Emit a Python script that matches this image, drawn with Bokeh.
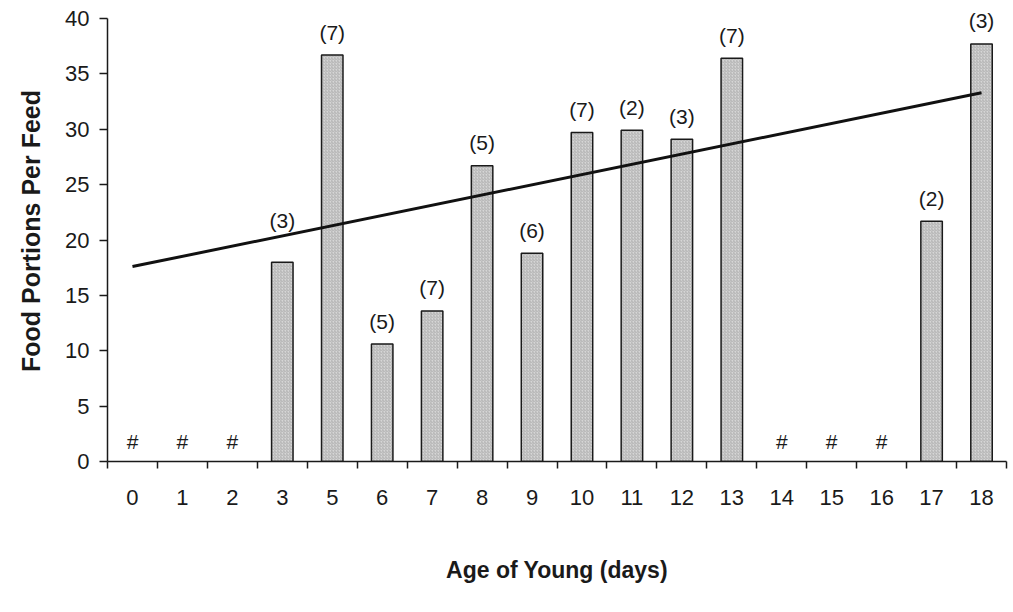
from bokeh.plotting import figure
from bokeh.models import ColumnDataSource, FixedTicker, Range1d, LabelSet
from bokeh.core.properties import value
from bokeh.embed import file_html
from bokeh.resources import INLINE

# ---- data ----
ages = ["0", "1", "2", "3", "5", "6", "7", "8", "9", "10", "11", "12", "13", "14", "15", "16", "17", "18"]
portions = [None, None, None, 18.0, 36.7, 10.6, 13.6, 26.7, 18.8, 29.7, 29.9, 29.1, 36.4, None, None, None, 21.7, 37.7]
sample_sizes = [None, None, None, 3, 7, 5, 7, 5, 6, 7, 2, 3, 7, None, None, None, 2, 3]
trend_start = 17.6
trend_end = 33.3
y_max = 40

FONT = "Liberation Sans"
TXT = "#1a1a1a"
n = len(ages)
centers = [i + 0.5 for i in range(n)]

# frame spans from pixel 0 to 461 while the axis runs 0..40 (pixel 18..461)
p = figure(width=1013, height=612, output_backend="svg", toolbar_location=None,
           x_range=Range1d(0, n), y_range=Range1d(0, y_max * 461 / 443),
           min_border_left=107, min_border_right=7, min_border_top=0, min_border_bottom=151)
p.outline_line_color = None
p.xgrid.visible = False
p.ygrid.visible = False
p.background_fill_color = "white"
p.border_fill_color = "white"

# bars
bx = [c for c, v in zip(centers, portions) if v is not None]
by = [v for v in portions if v is not None]
bar_src = ColumnDataSource(dict(x=bx, top=by))
p.vbar(x="x", top="top", bottom=0, width=0.43, source=bar_src,
       fill_color="#d6d6d6", line_color=TXT, line_width=1.5,
       hatch_pattern="right_diagonal_line", hatch_color="#a8a8a8", hatch_scale=3, hatch_weight=0.8)

# trend line
p.line(x=[centers[0], centers[-1]], y=[trend_start, trend_end], line_color="#111111", line_width=3)

# sample size labels
lx, ly, lt, loff = [], [], [], []
for c, v, s, a in zip(centers, portions, sample_sizes, ages):
    if v is not None:
        lx.append(c); ly.append(v); lt.append("(%d)" % s)
        loff.append(42 if a == "3" else 23)
lab_src = ColumnDataSource(dict(x=lx, y=ly, t=lt, off=loff))
p.add_layout(LabelSet(x="x", y="y", text="t", y_offset="off", source=lab_src, text_align="center",
                      text_baseline="middle", text_font=value(FONT), text_font_size="21px",
                      text_color=TXT))

# missing markers
hx = [c for c, v in zip(centers, portions) if v is None]
hash_src = ColumnDataSource(dict(x=hx, y=[0] * len(hx), t=["#"] * len(hx)))
p.add_layout(LabelSet(x="x", y="y", text="t", y_offset=20, source=hash_src, text_align="center",
                      text_baseline="middle", text_font=value(FONT), text_font_size="21px",
                      text_color=TXT))

# x axis
xa = p.xaxis[0]
xa.ticker = FixedTicker(ticks=centers, minor_ticks=list(range(n + 1)))
xa.major_label_overrides = {c: a for c, a in zip(centers, ages)}
xa.major_tick_out = 0
xa.major_tick_in = 0
xa.minor_tick_out = 7
xa.minor_tick_in = 0
xa.minor_tick_line_color = TXT
xa.minor_tick_line_width = 1.5
xa.axis_line_color = TXT
xa.axis_line_width = 1.5
xa.major_label_standoff = 21
xa.major_label_text_font = FONT
xa.major_label_text_font_size = "22px"
xa.major_label_text_color = TXT
xa.axis_label = "Age of Young (days)"
xa.axis_label_text_font = FONT
xa.axis_label_text_font_style = "bold"
xa.axis_label_text_font_size = "23px"
xa.axis_label_text_color = TXT
xa.axis_label_standoff = 49

# y axis
ya = p.yaxis[0]
ya.ticker = FixedTicker(ticks=list(range(0, y_max + 1, 5)))
ya.bounds = (0, y_max)
ya.major_tick_out = 8
ya.major_tick_in = 0
ya.minor_tick_line_color = None
ya.major_tick_line_color = TXT
ya.major_tick_line_width = 1.5
ya.axis_line_color = TXT
ya.axis_line_width = 1.5
ya.major_label_standoff = 10
ya.major_label_text_font = FONT
ya.major_label_text_font_size = "22px"
ya.major_label_text_color = TXT
ya.axis_label = "Food Portions Per Feed"
ya.axis_label_text_font = FONT
ya.axis_label_text_font_style = "bold"
ya.axis_label_text_font_size = "25px"
ya.axis_label_text_color = TXT
ya.axis_label_standoff = 17

open("out.html", "w").write(file_html(p, INLINE))
